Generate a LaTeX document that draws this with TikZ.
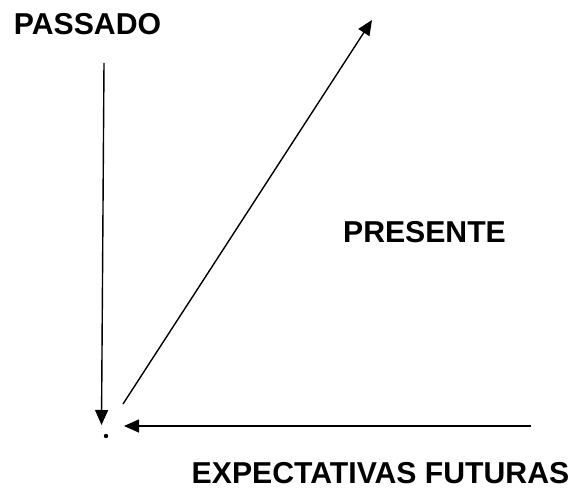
\documentclass[tikz,border=0pt]{standalone}
\usepackage{fontspec}
\setmainfont{Liberation Sans}
\usetikzlibrary{arrows.meta}
\begin{document}
\begin{tikzpicture}[x=1pt,y=-1pt,
  lbl/.style={font=\fontsize{30.2}{33}\selectfont\bfseries, inner sep=0pt, anchor=base},
  arr/.style={line width=1.4pt, -{Triangle[length=15pt,width=13pt]}}]
\useasboundingbox (0,0) rectangle (574,494);
\node[lbl] (pas) at (87.5,35) {PASSADO};
\node[lbl] (pre) at (424.5,243) {PRESENTE};
\node[lbl] (exp) at (380.5,484) {EXPECTATIVAS FUTURAS};
\coordinate (vtop) at (104,63);
\coordinate (vtip) at (101.5,425);
\coordinate (dlow) at (123,404);
\coordinate (dtip) at (372,20);
\coordinate (hright) at (531,426);
\coordinate (htip) at (124,426);
\fill (106,436) circle (2.2pt);
\draw[arr] (vtop) -- (vtip);
\draw[arr] (dlow) -- (dtip);
\draw[arr] (hright) -- (htip);
\end{tikzpicture}
\end{document}
